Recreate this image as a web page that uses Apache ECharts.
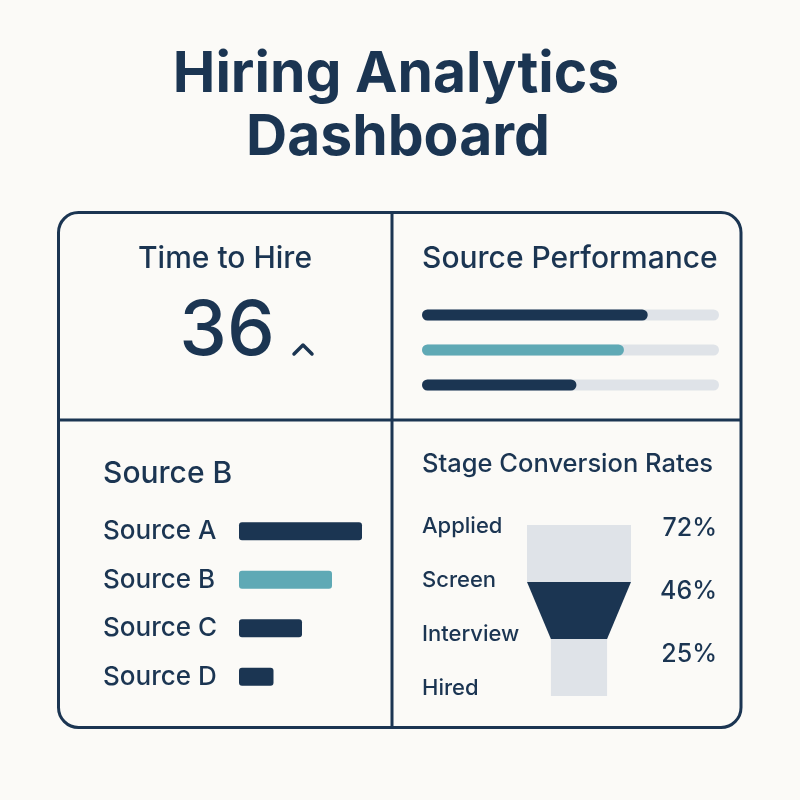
<!DOCTYPE html>
<html>
<head>
<meta charset="utf-8">
<title>Hiring Analytics Dashboard</title>
<script src="https://cdn.jsdelivr.net/npm/echarts@6/dist/echarts.min.js"></script>
<style>
  html, body { margin: 0; padding: 0; background: #fbfaf7; }
  #chart { width: 800px; height: 800px; }
</style>
</head>
<body>
<div id="chart"></div>
<script>
// ---- data ----
const timeToHire = 36;
const perfSources = ['Source A', 'Source B', 'Source C'];
const perfValues = [76, 68, 52];
const sourceNames = ['Source A', 'Source B', 'Source C', 'Source D'];
const sourceValues = [82, 62, 42, 23];
const highlightSource = 'Source B';
const stages = ['Applied', 'Screen', 'Interview', 'Hired'];
const funnelValues = [100, 100, 54, 54];
const conversionRates = [72, 46, 25];

// ---- styles ----
const navy = '#1b3552';
const teal = '#5fa9b5';
const light = '#dfe3e8';
const font = 'Inter, "Noto Sans", sans-serif';

function txt(text, x, y, size, weight, align) {
  return {
    type: 'text', x: x, y: y, silent: true,
    style: {
      text: text, fill: navy, fontSize: size, fontWeight: weight || 'normal',
      fontFamily: font, textAlign: align || 'left', textVerticalAlign: 'middle',
      align: align || 'left', verticalAlign: 'middle'
    }
  };
}

const chart = echarts.init(document.getElementById('chart'));

const option = {
  backgroundColor: '#fbfaf7',
  animation: false,
  textStyle: { fontFamily: font },
  graphic: [
    txt('Hiring Analytics', 396, 75, 57, 'bold', 'center'),
    txt('Dashboard', 398, 138, 57, 'bold', 'center'),
    {
      type: 'rect', silent: true,
      shape: { x: 58.5, y: 212.5, width: 682.5, height: 515, r: 20 },
      style: { fill: 'none', stroke: navy, lineWidth: 3 }
    },
    {
      type: 'line', silent: true,
      shape: { x1: 392, y1: 212, x2: 392, y2: 728 },
      style: { stroke: navy, lineWidth: 3 }
    },
    {
      type: 'line', silent: true,
      shape: { x1: 58, y1: 420, x2: 741, y2: 420 },
      style: { stroke: navy, lineWidth: 3 }
    },
    txt('Time to Hire', 225, 259, 30, '500', 'center'),
    txt(String(timeToHire), 227, 332, 76, '500', 'center'),
    {
      type: 'polyline', silent: true,
      shape: { points: [[294, 354], [303, 345], [312, 354]] },
      style: { fill: 'none', stroke: navy, lineWidth: 3.5, lineCap: 'round', lineJoin: 'round' }
    },
    txt('Source Performance', 422, 259, 30, '500', 'left'),
    txt(highlightSource, 103, 474, 30, '500', 'left'),
    txt('Stage Conversion Rates', 422, 464, 25.5, '500', 'left')
  ],
  grid: [
    { left: 422, top: 297.5, width: 297, height: 105 },
    { left: 239, top: 507, width: 150, height: 194 },
    { left: 422, top: 499, width: 90, height: 216 },
    { left: 600, top: 497, width: 117, height: 189 }
  ],
  xAxis: [0, 1, 2, 3].map(function (i) {
    return { type: 'value', gridIndex: i, min: 0, max: 100, show: false };
  }),
  yAxis: [
    { type: 'category', gridIndex: 0, data: perfSources, inverse: true, show: false },
    {
      type: 'category', gridIndex: 1, data: sourceNames, inverse: true,
      axisLine: { show: false }, axisTick: { show: false },
      axisLabel: { interval: 0, align: 'left', margin: 136, fontSize: 26, fontWeight: 500, color: navy, fontFamily: font }
    },
    {
      type: 'category', gridIndex: 2, data: stages, inverse: true,
      axisLine: { show: false }, axisTick: { show: false },
      axisLabel: { interval: 0, align: 'left', margin: 0, fontSize: 22, fontWeight: 500, color: navy, fontFamily: font }
    },
    {
      type: 'category', gridIndex: 3, position: 'right', inverse: true,
      data: conversionRates.map(function (v) { return v + '%'; }),
      axisLine: { show: false }, axisTick: { show: false },
      axisLabel: { interval: 0, align: 'right', margin: 0, fontSize: 25, fontWeight: 500, color: navy, fontFamily: font }
    }
  ],
  series: [
    {
      type: 'bar', xAxisIndex: 0, yAxisIndex: 0, silent: true,
      barWidth: 11,
      showBackground: true,
      backgroundStyle: { color: light, borderRadius: 5.5 },
      itemStyle: { borderRadius: 5.5 },
      data: perfValues.map(function (v, i) {
        return { value: v, itemStyle: { color: i === 1 ? teal : navy } };
      })
    },
    {
      type: 'bar', xAxisIndex: 1, yAxisIndex: 1, silent: true,
      barWidth: 18,
      itemStyle: { borderRadius: 3 },
      data: sourceValues.map(function (v, i) {
        return { value: v, itemStyle: { color: sourceNames[i] === highlightSource ? teal : navy } };
      })
    },
    {
      type: 'funnel', silent: true,
      left: 527, top: 525, width: 104, height: 228,
      sort: 'none', gap: 0, min: 0, max: 100,
      minSize: '0%', maxSize: '100%',
      label: { show: false },
      labelLine: { show: false },
      itemStyle: { borderWidth: 0 },
      emphasis: { disabled: true },
      data: stages.map(function (s, i) {
        const colors = [light, navy, light, 'rgba(0,0,0,0)'];
        return { name: s, value: funnelValues[i], itemStyle: { color: colors[i] } };
      })
    }
  ]
};

chart.setOption(option);
window.addEventListener('resize', function () {
  chart.resize();
});
</script>
</body>
</html>
